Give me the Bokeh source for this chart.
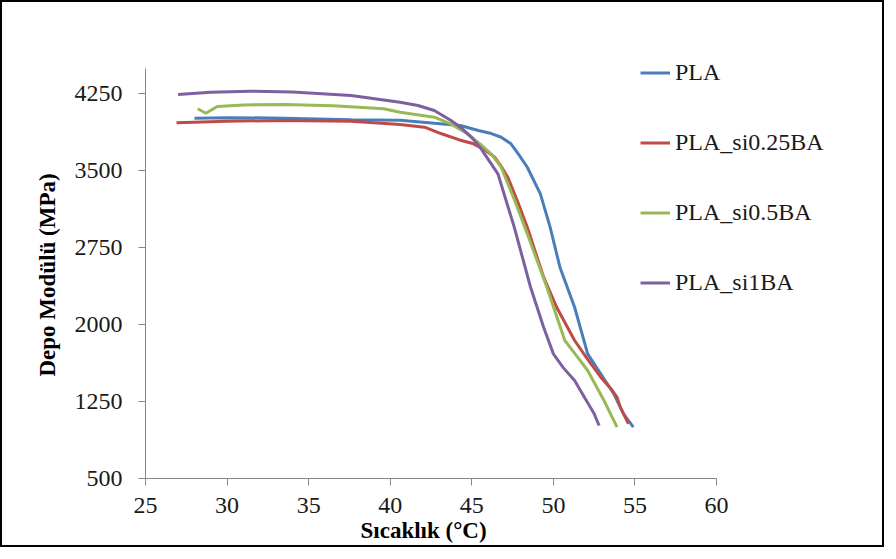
from bokeh.plotting import figure
from bokeh.models import Legend, LegendItem, FixedTicker, Range1d, Title
from bokeh.embed import file_html
from bokeh.resources import INLINE

# Data
pla_T = [28.0, 30.0, 33.5, 37.6, 40.6, 42.7, 44.3, 45.4, 46.2, 46.8, 47.4, 47.9, 48.4, 49.2, 49.8, 50.4, 51.3, 52.1, 52.9, 53.7, 54.3, 54.9]
pla_E = [4009, 4015, 4010, 3995, 3990, 3960, 3938, 3890, 3860, 3824, 3760, 3650, 3532, 3273, 2948, 2558, 2168, 1714, 1520, 1325, 1130, 1000]

si025_T = [26.9, 30.0, 33.5, 37.6, 40.6, 42.1, 43.1, 44.2, 45.1, 45.8, 46.4, 46.8, 47.2, 47.8, 48.4, 49.4, 50.2, 51.3, 52.1, 52.9, 53.5, 53.9, 54.1, 54.6]
si025_E = [3964, 3980, 3987, 3980, 3948, 3922, 3860, 3800, 3760, 3700, 3630, 3540, 3435, 3200, 2948, 2461, 2168, 1844, 1660, 1487, 1380, 1292, 1195, 1033]

si05_T = [28.2, 28.7, 29.4, 31.0, 33.5, 36.5, 39.6, 40.6, 42.7, 43.7, 44.7, 45.5, 46.2, 46.8, 47.6, 48.4, 49.6, 50.7, 51.4, 52.1, 53.1, 53.9]
si05_E = [4101, 4058, 4123, 4138, 4143, 4130, 4101, 4068, 4019, 3954, 3860, 3760, 3660, 3532, 3220, 2883, 2363, 1844, 1700, 1552, 1260, 1000]

si1_T = [27.0, 29.0, 31.4, 34.0, 37.6, 40.6, 41.7, 42.7, 43.7, 44.3, 45.0, 45.5, 46.6, 47.6, 48.6, 49.4, 50.0, 50.6, 51.3, 51.9, 52.5, 52.8]
si1_E = [4240, 4262, 4272, 4265, 4230, 4165, 4133, 4084, 3990, 3922, 3820, 3727, 3468, 2948, 2363, 1974, 1714, 1580, 1454, 1292, 1130, 1016]

series_names = ["PLA", "PLA_si0.25BA", "PLA_si0.5BA", "PLA_si1BA"]
series_colors = ["#4A7EBB", "#BE4B48", "#98B954", "#7D60A0"]

x_ticks = [25, 30, 35, 40, 45, 50, 55, 60]
y_ticks = [500, 1250, 2000, 2750, 3500, 4250]

x_label = "Sıcaklık (°C)"
y_label = "Depo Modülü (MPa)"

FONT = "Liberation Serif"

p = figure(width=884, height=547, output_backend="svg", toolbar_location=None,
           x_range=Range1d(25, 70.17), y_range=Range1d(500, 5039),
           min_border_left=143, min_border_right=4, min_border_top=10, min_border_bottom=71)
p.styles = {"border": "2px solid black"}
p.outline_line_color = None
p.xgrid.visible = False
p.ygrid.visible = False

renderers = []
for T, E, c in [(pla_T, pla_E, series_colors[0]), (si025_T, si025_E, series_colors[1]),
                (si05_T, si05_E, series_colors[2]), (si1_T, si1_E, series_colors[3])]:
    r = p.line(T, E, line_color=c, line_width=3)
    renderers.append(r)

for ax in (p.xaxis[0], p.yaxis[0]):
    ax.axis_line_color = "#868686"
    ax.major_tick_line_color = "#868686"
    ax.minor_tick_line_color = None
    ax.major_tick_in = 0
    ax.major_tick_out = 7
    ax.major_label_text_font = FONT
    ax.major_label_text_font_size = "24px"
    ax.major_label_text_color = "#1a1a1a"

p.xaxis[0].ticker = FixedTicker(ticks=x_ticks)
p.yaxis[0].ticker = FixedTicker(ticks=y_ticks)
p.xaxis[0].bounds = (25, 60)
p.yaxis[0].bounds = (500, 4493)
p.xaxis[0].major_label_standoff = 12
p.yaxis[0].major_label_standoff = 16

# axis titles centred on the visible axis extent
xt = Title(text=x_label, align="left", offset=215, standoff=1,
           text_font=FONT, text_font_style="bold", text_font_size="23px", text_color="black")
p.add_layout(xt, "below")
yt = Title(text=y_label, align="left", offset=102, standoff=23,
           text_font=FONT, text_font_style="bold", text_font_size="23px", text_color="black")
p.add_layout(yt, "left")

legend = Legend(items=[LegendItem(label=n, renderers=[r]) for n, r in zip(series_names, renderers)],
                location=(495, 182))
legend.border_line_color = None
legend.background_fill_alpha = 0
legend.padding = 0
legend.margin = 0
legend.spacing = 43
legend.glyph_width = 30
legend.glyph_height = 27
legend.label_height = 27
legend.label_standoff = 5
legend.label_text_font = FONT
legend.label_text_font_size = "24px"
legend.label_text_color = "#1a1a1a"
p.add_layout(legend, "center")

open("out.html", "w").write(file_html(p, INLINE))
